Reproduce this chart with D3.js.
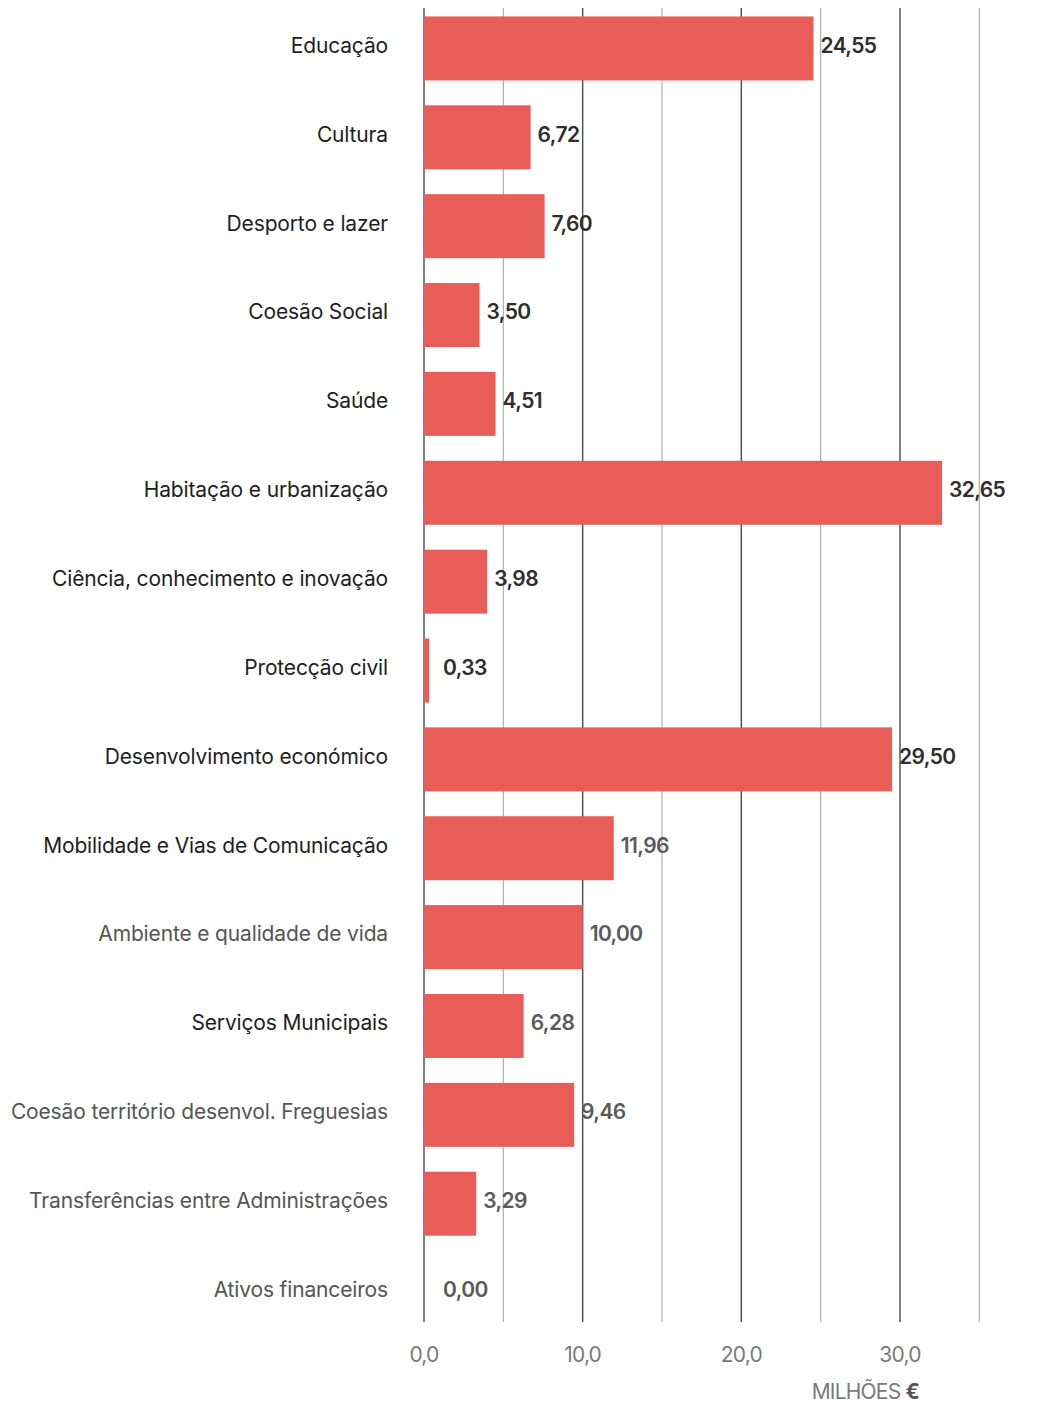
<!DOCTYPE html>
<html>
<head>
<meta charset="utf-8">
<script src="https://cdn.jsdelivr.net/npm/d3@7"></script>
<style>
  body { margin: 0; background: #fff; }
  svg text { font-family: Inter, "Noto Sans", sans-serif; }
</style>
</head>
<body>
<div id="chart"></div>
<script>
const categories = [
  "Educação", "Cultura", "Desporto e lazer", "Coesão Social", "Saúde",
  "Habitação e urbanização", "Ciência, conhecimento e inovação", "Protecção civil",
  "Desenvolvimento económico", "Mobilidade e Vias de Comunicação",
  "Ambiente e qualidade de vida", "Serviços Municipais",
  "Coesão território desenvol. Freguesias", "Transferências entre Administrações",
  "Ativos financeiros"
];
const values = [24.55, 6.72, 7.60, 3.50, 4.51, 32.65, 3.98, 0.33, 29.50, 11.96, 10.00, 6.28, 9.46, 3.29, 0.00];
const majorTicks = [0, 10, 20, 30];
const minorTicks = [5, 15, 25, 35];

const width = 1037, height = 1404;
const fmt = v => v.toFixed(2).replace(".", ",");

const svg = d3.select("#chart").append("svg")
  .attr("width", width).attr("height", height);

const x = d3.scaleLinear().domain([0, 30]).range([424, 900]);
const y = d3.scaleBand().domain(categories).range([1, 1334]).paddingInner(0.28).paddingOuter(0.14);
const barShift = 3;

const gridTop = 8, gridBottom = 1322;

// minor grid
svg.append("g").selectAll("line").data(minorTicks).join("line")
  .attr("x1", d => x(d)).attr("x2", d => x(d))
  .attr("y1", gridTop).attr("y2", gridBottom)
  .attr("stroke", "#b0b0b0").attr("stroke-width", 1.2);

// major grid
svg.append("g").selectAll("line").data(majorTicks).join("line")
  .attr("x1", d => x(d)).attr("x2", d => x(d))
  .attr("y1", gridTop).attr("y2", gridBottom)
  .attr("stroke", "#4a4a4a").attr("stroke-width", 1.4);

// bars
svg.append("g").selectAll("rect").data(values).join("rect")
  .attr("x", x(0))
  .attr("y", (d, i) => y(categories[i]) + barShift)
  .attr("width", d => x(d) - x(0))
  .attr("height", y.bandwidth())
  .attr("fill", "#e85d58");

// value labels
svg.append("g").selectAll("text").data(values).join("text")
  .attr("x", d => Math.max(x(d) + 7, x(0) + 19))
  .attr("y", (d, i) => y(categories[i]) + y.bandwidth() / 2)
  .attr("dy", "0.35em")
  .attr("font-size", 21).attr("font-weight", 600)
  .attr("fill", (d, i) => i >= 9 ? "#5a5a5a" : "#2e2e2e")
  .attr("letter-spacing", "-0.6")
  .text(d => fmt(d));

// category labels
svg.append("g").selectAll("text").data(categories).join("text")
  .attr("x", 388)
  .attr("y", d => y(d) + y.bandwidth() / 2)
  .attr("dy", "0.35em")
  .attr("text-anchor", "end")
  .attr("font-size", 21)
  .attr("letter-spacing", "-0.15")
  .attr("fill", (d, i) => (i === 10 || i >= 12) ? "#555" : "#1e1e1e")
  .text(d => d);

// x axis tick labels
svg.append("g").selectAll("text").data(majorTicks).join("text")
  .attr("x", d => x(d))
  .attr("y", 1362)
  .attr("text-anchor", "middle")
  .attr("font-size", 21)
  .attr("letter-spacing", "-0.8")
  .attr("fill", "#7a7a7a")
  .text(d => d.toFixed(1).replace(".", ","));

const unit = svg.append("text")
  .attr("x", 919).attr("y", 1399)
  .attr("text-anchor", "end")
  .attr("font-size", 21)
  .attr("letter-spacing", "-0.8")
  .attr("fill", "#7a7a7a");
unit.append("tspan").text("MILHÕES ");
unit.append("tspan").attr("font-weight", 700).attr("fill", "#555").text("€");
</script>
</body>
</html>
